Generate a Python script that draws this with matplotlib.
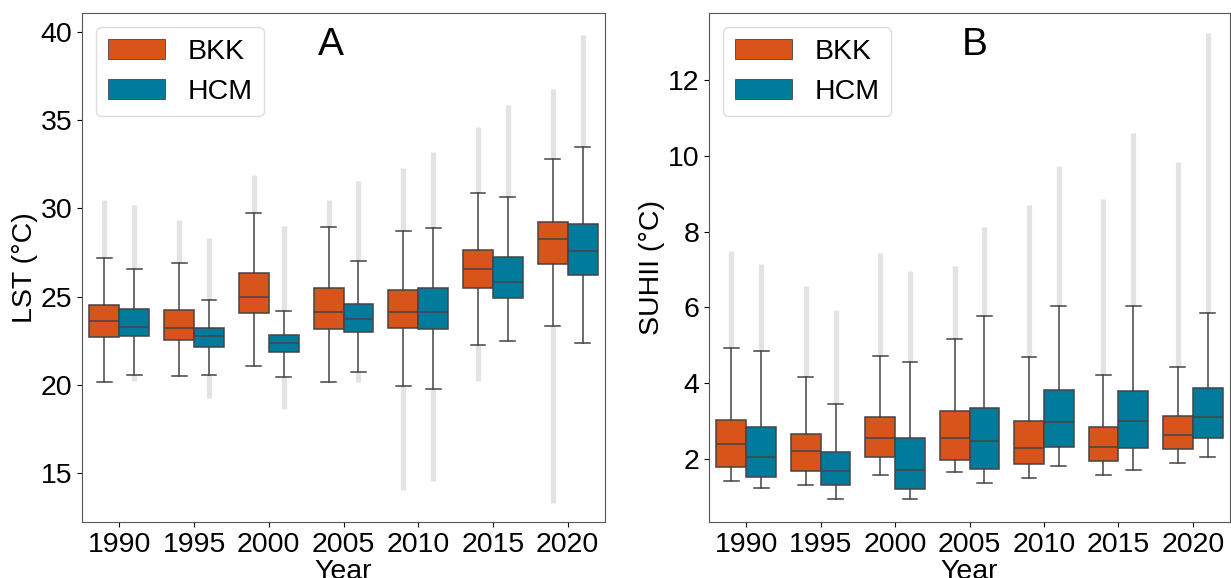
import matplotlib
matplotlib.use("Agg")
import matplotlib.pyplot as plt
from matplotlib.patches import Patch
import numpy as np

plt.rcParams['font.family'] = ['Liberation Sans', 'DejaVu Sans']

years = [1990, 1995, 2000, 2005, 2010, 2015, 2020]
cities = ["BKK", "HCM"]
city_colors = ["#D9541A", "#007B9C"]

# ---------- Panel A: LST (°C) ----------
lst_bkk_med = [23.6, 23.2, 25.0, 24.1, 24.15, 26.55, 28.25]
lst_bkk_q1 = [22.73, 22.52, 24.08, 23.13, 23.19, 25.46, 26.87]
lst_bkk_q3 = [24.50, 24.24, 26.34, 25.46, 25.40, 27.63, 29.22]
lst_bkk_wlo = [20.17, 20.50, 21.05, 20.17, 19.90, 22.27, 23.32]
lst_bkk_whi = [27.18, 26.89, 29.75, 28.93, 28.72, 30.88, 32.79]
lst_bkk_outhi = [30.5, 29.35, 31.9, 30.5, 32.3, 34.6, 36.8]
lst_bkk_outlo = [None, None, None, None, 14.0, 20.2, 13.3]

lst_hcm_med = [23.26, 22.75, 22.35, 23.74, 24.10, 25.82, 27.61]
lst_hcm_q1 = [22.77, 22.14, 21.83, 22.98, 23.15, 24.94, 26.20]
lst_hcm_q3 = [24.29, 23.24, 22.79, 24.60, 25.46, 27.25, 29.12]
lst_hcm_wlo = [20.55, 20.57, 20.44, 20.69, 19.73, 22.48, 22.35]
lst_hcm_whi = [26.55, 24.83, 24.20, 27.00, 28.91, 30.67, 33.51]
lst_hcm_outhi = [30.2, 28.3, 29.0, 31.55, 33.2, 35.9, 39.85]
lst_hcm_outlo = [20.2, 19.26, 18.63, 20.17, 14.5, None, None]

# ---------- Panel B: SUHII (°C) ----------
suh_bkk_med = [2.39, 2.20, 2.54, 2.56, 2.29, 2.31, 2.63]
suh_bkk_q1 = [1.79, 1.68, 2.05, 1.98, 1.87, 1.93, 2.26]
suh_bkk_q3 = [3.03, 2.66, 3.10, 3.25, 3.00, 2.83, 3.12]
suh_bkk_wlo = [1.40, 1.30, 1.58, 1.64, 1.49, 1.56, 1.90]
suh_bkk_whi = [4.93, 4.15, 4.71, 5.17, 4.68, 4.20, 4.42]
suh_bkk_outhi = [7.49, 6.57, 7.44, 7.10, 8.71, 8.86, 9.83]

suh_hcm_med = [2.05, 1.68, 1.71, 2.47, 2.98, 3.00, 3.10]
suh_hcm_q1 = [1.51, 1.30, 1.19, 1.73, 2.31, 2.29, 2.55]
suh_hcm_q3 = [2.84, 2.17, 2.54, 3.35, 3.81, 3.79, 3.86]
suh_hcm_wlo = [1.23, 0.94, 0.94, 1.36, 1.80, 1.69, 2.05]
suh_hcm_whi = [4.84, 3.45, 4.55, 5.77, 6.03, 6.03, 5.86]
suh_hcm_outhi = [7.15, 5.93, 6.96, 8.13, 9.74, 10.61, 13.25]

line_c = "#444444"
flier_c = "#dcdcdc"

fig = plt.figure(figsize=(12.31, 5.78), dpi=100)
axA = fig.add_axes([82/1231, 1 - 522/578, (605-82)/1231, (522-13)/578])
axB = fig.add_axes([709/1231, 1 - 522/578, (1230-709)/1231, (522-13)/578])


def draw_panel(ax, series):
    x = np.arange(len(years))
    for k, (med, q1, q3, wlo, whi, ohi, olo) in enumerate(series):
        off = -0.2 if k == 0 else 0.2
        pos = x + off
        # outlier streaks
        for p, w, o in zip(pos, whi, ohi):
            if o is not None:
                ax.vlines(p, w, o, color=flier_c, lw=3.8, alpha=0.8, zorder=1)
        for p, w, o in zip(pos, wlo, olo):
            if o is not None:
                ax.vlines(p, o, w, color=flier_c, lw=3.8, alpha=0.8, zorder=1)
        stats = []
        for i in range(len(years)):
            stats.append(dict(med=med[i], q1=q1[i], q3=q3[i],
                              whislo=wlo[i], whishi=whi[i], fliers=[]))
        ax.bxp(stats, positions=pos, widths=0.4, patch_artist=True,
               showfliers=False, capwidths=0.2,
               boxprops=dict(facecolor=city_colors[k], edgecolor=line_c, linewidth=1.1),
               medianprops=dict(color=line_c, linewidth=1.1),
               whiskerprops=dict(color=line_c, linewidth=1.1),
               capprops=dict(color=line_c, linewidth=1.1),
               manage_ticks=False, zorder=2)
    ax.set_xticks(x)
    ax.set_xticklabels([str(y) for y in years], fontsize=20.5)
    ax.set_xlim(-0.5, len(years) - 0.5)
    ax.tick_params(axis='y', labelsize=20.5)
    ax.set_xlabel("Year", fontsize=20.5, labelpad=1)
    for s in ax.spines.values():
        s.set_color("#555555")
    handles = [Patch(facecolor=city_colors[i], edgecolor=line_c, linewidth=0.6,
                     label=cities[i]) for i in range(2)]
    leg = ax.legend(handles=handles, loc="upper left", fontsize=20.5,
                    handlelength=2.0, handletextpad=0.8, framealpha=1,
                    fancybox=True)
    leg.get_frame().set_edgecolor("#dddddd")


draw_panel(axA, [
    (lst_bkk_med, lst_bkk_q1, lst_bkk_q3, lst_bkk_wlo, lst_bkk_whi, lst_bkk_outhi, lst_bkk_outlo),
    (lst_hcm_med, lst_hcm_q1, lst_hcm_q3, lst_hcm_wlo, lst_hcm_whi, lst_hcm_outhi, lst_hcm_outlo),
])
axA.set_ylim(12.2, 41.1)
axA.set_yticks([15, 20, 25, 30, 35, 40])
axA.set_ylabel("LST (°C)", fontsize=20.5, labelpad=2)
axA.text(0.476, 0.937, "A", transform=axA.transAxes, fontsize=28,
         ha="center", va="center")

none7 = [None] * len(years)
draw_panel(axB, [
    (suh_bkk_med, suh_bkk_q1, suh_bkk_q3, suh_bkk_wlo, suh_bkk_whi, suh_bkk_outhi, none7),
    (suh_hcm_med, suh_hcm_q1, suh_hcm_q3, suh_hcm_wlo, suh_hcm_whi, suh_hcm_outhi, none7),
])
axB.set_ylim(0.33, 13.77)
axB.set_yticks([2, 4, 6, 8, 10, 12])
axB.set_ylabel("SUHII (°C)", fontsize=20.5, labelpad=2)
axB.text(0.51, 0.937, "B", transform=axB.transAxes, fontsize=28,
         ha="center", va="center")

fig.savefig("out.png", dpi=100)
